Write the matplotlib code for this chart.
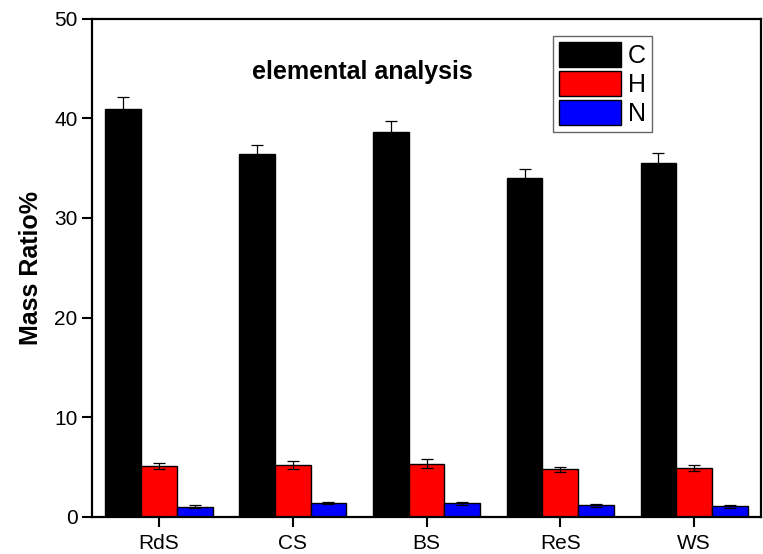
import numpy as np
import matplotlib
matplotlib.use('Agg')
import matplotlib.pyplot as plt

plt.rcParams['font.family'] = ['Liberation Sans', 'DejaVu Sans']

# Datos
samples = ['RdS', 'CS', 'BS', 'ReS', 'WS']
c_vals = [40.9, 36.4, 38.6, 34.0, 35.5]
c_err = [1.2, 0.9, 1.1, 0.9, 1.0]
h_vals = [5.1, 5.2, 5.35, 4.8, 4.9]
h_err = [0.33, 0.4, 0.45, 0.25, 0.3]
n_vals = [1.03, 1.4, 1.37, 1.17, 1.07]
n_err = [0.15, 0.13, 0.18, 0.13, 0.15]

x = np.arange(len(samples))
w = 0.267

fig = plt.figure(figsize=(7.63, 5.54), dpi=100)
ax = fig.add_axes([0.1206, 0.0668, 0.8768, 0.8998])

err_kw = dict(ecolor='black', elinewidth=0.9, capsize=4, capthick=0.9)
ax.bar(x - w, c_vals, w, yerr=c_err, color='black', edgecolor='black', linewidth=1, label='C', error_kw=err_kw)
ax.bar(x, h_vals, w, yerr=h_err, color='#ff0000', edgecolor='black', linewidth=1, label='H', error_kw=err_kw)
ax.bar(x + w, n_vals, w, yerr=n_err, color='#0000ff', edgecolor='black', linewidth=1, label='N', error_kw=err_kw)

ax.set_xlim(-0.5, len(samples) - 0.5)
ax.set_ylim(0, 50)
ax.set_yticks([0, 10, 20, 30, 40, 50])
ax.set_xticks(x)
ax.set_xticklabels(samples)
ax.tick_params(axis='both', direction='out', length=7, width=1.5, labelsize=15, color='black')
ax.tick_params(axis='x', pad=5)
for s in ax.spines.values():
    s.set_linewidth(1.6)

ax.set_ylabel('Mass Ratio%', fontsize=18, fontweight='bold', labelpad=8)
ax.text(0.404, 0.892, 'elemental analysis', transform=ax.transAxes, ha='center', va='center',
        fontsize=18, fontweight='bold')

leg = ax.legend(loc='upper right', bbox_to_anchor=(0.837, 0.965), borderaxespad=0,
                fontsize=18, handlelength=2.5, handleheight=1.15, handletextpad=0.25,
                labelspacing=0.12, borderpad=0.25, fancybox=False, framealpha=1)
leg.get_frame().set_edgecolor('#666666')
leg.get_frame().set_linewidth(1.0)

fig.savefig('out.png', dpi=100)
